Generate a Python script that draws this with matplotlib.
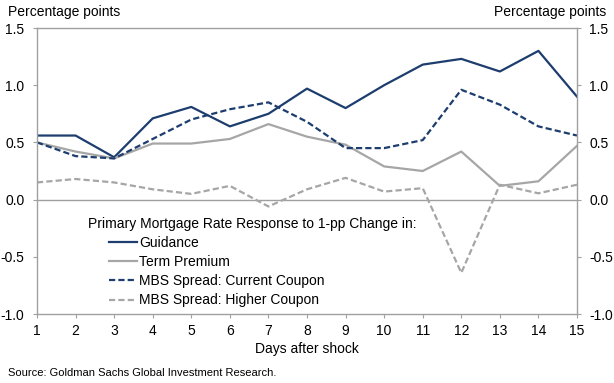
import matplotlib.pyplot as plt

plt.rcParams['font.family'] = ['Liberation Sans', 'DejaVu Sans']
plt.rcParams['axes.unicode_minus'] = False

days = list(range(1, 16))
guidance = [0.56, 0.56, 0.37, 0.71, 0.81, 0.64, 0.75, 0.97, 0.80, 1.00, 1.18, 1.23, 1.12, 1.30, 0.90]
term_premium = [0.50, 0.42, 0.36, 0.49, 0.49, 0.53, 0.66, 0.55, 0.48, 0.29, 0.25, 0.42, 0.12, 0.16, 0.47]
mbs_current = [0.50, 0.38, 0.36, 0.53, 0.70, 0.79, 0.85, 0.68, 0.45, 0.45, 0.52, 0.96, 0.83, 0.64, 0.56]
mbs_higher = [0.15, 0.18, 0.15, 0.09, 0.05, 0.12, -0.06, 0.09, 0.19, 0.07, 0.10, -0.64, 0.13, 0.055, 0.13]
yticks = [-1.0, -0.5, 0.0, 0.5, 1.0, 1.5]

NAVY = "#1c3d6e"
GRAY = "#a6a6a6"
AXC = "#a0a0a0"


def main():
    fig = plt.figure(figsize=(6.14, 3.83), dpi=100)
    ax = fig.add_axes([37 / 614, 1 - 314 / 383, 540 / 614, 286 / 383])

    lw = 1.6
    dash = (2.8, 1.4)
    ax.plot(days, guidance, color=NAVY, lw=lw, label="Guidance")
    ax.plot(days, term_premium, color=GRAY, lw=lw, label="Term Premium")
    ax.plot(days, mbs_current, color=NAVY, lw=lw, dashes=dash,
            label="MBS Spread: Current Coupon")
    ax.plot(days, mbs_higher, color=GRAY, lw=lw, dashes=dash,
            label="MBS Spread: Higher Coupon")

    ax.axhline(0, color=AXC, lw=1.0, zorder=0)
    ax.set_xlim(1, 15)
    ax.set_ylim(-1.0, 1.5)
    ax.set_xticks(days)
    ax.set_yticks(yticks)
    ax.set_yticklabels([f"{v:.1f}" for v in yticks])

    for s in ax.spines.values():
        s.set_color(AXC)
        s.set_linewidth(1.0)

    ax.tick_params(axis="x", direction="out", length=3, color=AXC,
                   labelsize=10, pad=4)
    ax.tick_params(axis="y", direction="out", length=3, color=AXC,
                   labelsize=10, pad=6, right=True, labelright=True)

    ax.set_xlabel("Days after shock", fontsize=10, labelpad=3)

    fig.text(8 / 614, 1 - 12 / 383, "Percentage points", fontsize=10,
             va="center", ha="left")
    fig.text(606 / 614, 1 - 12 / 383, "Percentage points", fontsize=10,
             va="center", ha="right")
    fig.text(8 / 614, 1 - 373 / 383,
             "Source: Goldman Sachs Global Investment Research.",
             fontsize=8, va="center", ha="left")

    fig.text(88 / 614, 1 - 224 / 383,
             "Primary Mortgage Rate Response to 1-pp Change in:",
             fontsize=10, va="center", ha="left")
    ax.legend(loc="upper left", bbox_to_anchor=(109 / 614, 1 - 236 / 383),
              bbox_transform=fig.transFigure, frameon=False, fontsize=10,
              borderpad=0, borderaxespad=0, handlelength=2.0,
              handletextpad=0.15, labelspacing=0.37)

    fig.savefig("out.png", dpi=100)
    plt.close(fig)


if __name__ == "__main__":
    main()
